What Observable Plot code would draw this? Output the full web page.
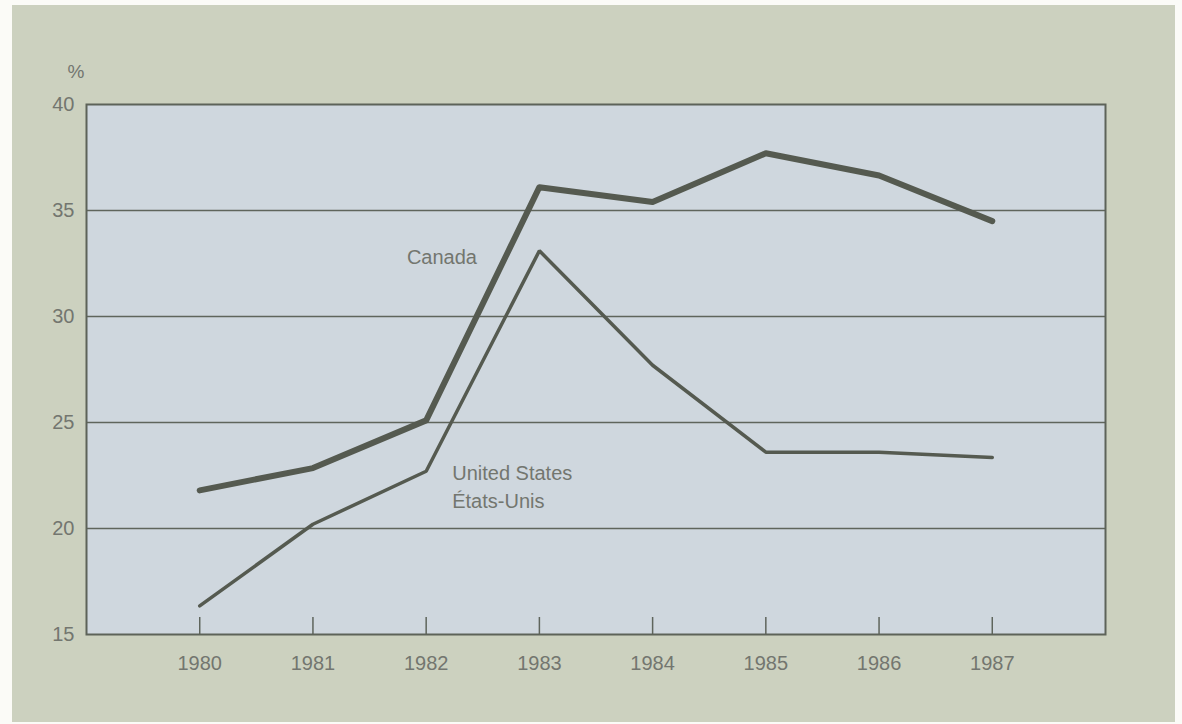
<!DOCTYPE html>
<html>
<head>
<meta charset="utf-8">
<script src="https://cdn.jsdelivr.net/npm/d3@7"></script>
<script src="https://cdn.jsdelivr.net/npm/@observablehq/plot@0.6"></script>
<style>
  html, body { margin: 0; padding: 0; background: #fbfbf7; }
  #panel { position: absolute; left: 12px; top: 5px; width: 1163px; height: 717px; background: #ccd1bf; }
  #chart { position: absolute; left: 0; top: 0; }
</style>
</head>
<body>
<div id="panel"></div>
<div id="chart"></div>
<script>
const years = [1980, 1981, 1982, 1983, 1984, 1985, 1986, 1987];
const canada = [21.8, 22.85, 25.1, 36.1, 35.4, 37.7, 36.65, 34.5];
const unitedStates = [16.35, 20.2, 22.7, 33.1, 27.7, 23.6, 23.6, 23.35];
const gridValues = [20, 25, 30, 35];
const yTicks = [15, 20, 25, 30, 35, 40];
const seriesLabels = [
  {text: "Canada", year: 1981.83, value: 32.92},
  {text: "United States\nÉtats-Unis", year: 1982.23, value: 22.05}
];

const canadaData = years.map((y, i) => ({year: y, value: canada[i]}));
const usData = years.map((y, i) => ({year: y, value: unitedStates[i]}));

const lineColor = "#555a50";
const textColor = "#73766f";

const chart = Plot.plot({
  width: 1182,
  height: 724,
  marginLeft: 86,
  marginRight: 77,
  marginTop: 104,
  marginBottom: 90,
  style: {background: "transparent", fontFamily: "'Liberation Sans', Arial, sans-serif", fontSize: "20px", color: textColor},
  x: {domain: [1979, 1988], label: null},
  y: {domain: [15, 40], label: null},
  marks: [
    Plot.frame({fill: "#cfd7de", stroke: "none"}),
    Plot.ruleY(gridValues, {stroke: "#5f655c", strokeWidth: 1.5}),
    Plot.tickX(years, {x: d => d, stroke: "#5f655c", strokeWidth: 1.5, insetTop: 513}),
    Plot.frame({stroke: "#5d6359", strokeWidth: 2}),
    Plot.axisX(years, {tickSize: 0, tickPadding: 21, tickFormat: d => String(d), fill: textColor, fontSize: 20, label: null}),
    Plot.axisY(yTicks, {tickSize: 0, tickPadding: 12, fill: textColor, fontSize: 20, label: null}),
    Plot.text(["%"], {frameAnchor: "top-left", dx: -19, dy: -40, fill: textColor, fontSize: 19}),
    Plot.line(usData, {x: "year", y: "value", stroke: lineColor, strokeWidth: 3.5, strokeLinejoin: "miter", strokeLinecap: "round"}),
    Plot.line(canadaData, {x: "year", y: "value", stroke: lineColor, strokeWidth: 6, strokeLinejoin: "round", strokeLinecap: "round"}),
    Plot.text(seriesLabels, {x: "year", y: "value", text: "text", textAnchor: "start", fill: textColor, fontSize: 20, lineHeight: 1.4})
  ]
});
document.getElementById("chart").appendChild(chart);
</script>
</body>
</html>
